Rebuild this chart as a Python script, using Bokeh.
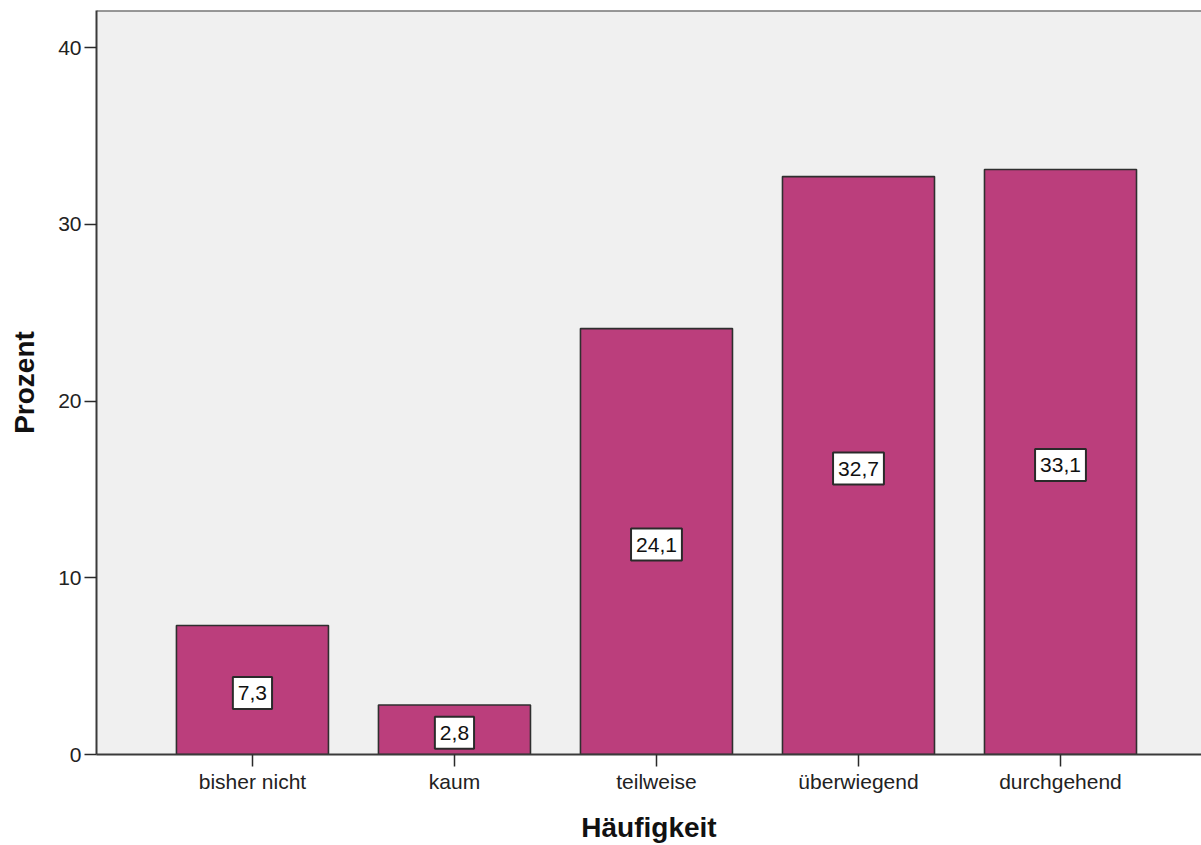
from bokeh.plotting import figure
from bokeh.models import (ColumnDataSource, Range1d, FixedTicker, Label, Span)
from bokeh.embed import file_html
from bokeh.resources import INLINE

# Häufigkeit categories and their share in percent
categories = ["bisher nicht", "kaum", "teilweise", "überwiegend", "durchgehend"]
percent = [7.3, 2.8, 24.1, 32.7, 33.1]
y_ticks = [0, 10, 20, 30, 40]

positions = list(range(len(categories)))

source = ColumnDataSource(dict(x=positions, top=percent))

FONT = "Liberation Sans"
Y_END = 42.1

p = figure(
    width=1201, height=845,
    x_range=Range1d(-0.772, 4.698),
    y_range=Range1d(0, Y_END),
    output_backend="svg",
    toolbar_location=None,
    min_border_left=96, min_border_right=0,
    min_border_top=10, min_border_bottom=91,
)

p.background_fill_color = "#f0f0f0"
p.border_fill_color = "white"
p.outline_line_color = None
p.grid.visible = False

p.vbar(x="x", top="top", bottom=0, width=0.7525, source=source,
       fill_color="#bb3e7c", line_color="#2f2f2f", line_width=1.6)

# boxed value labels, centred halfway up each bar
for xi, v in zip(positions, percent):
    p.add_layout(Label(
        x=xi, y=v / 2, y_offset=-3, text=f"{v:.1f}".replace(".", ","),
        text_align="center", text_baseline="middle",
        text_font=FONT, text_font_size="21px", text_color="#111111",
        background_fill_color="white", border_line_color="#2a2a2a",
        border_line_width=2, padding=(5, 9),
    ))

# top edge of the plot frame
p.add_layout(Span(location=Y_END, dimension="width",
                  line_color="#3a3a3a", line_width=2))

# x axis
p.xaxis.ticker = FixedTicker(ticks=positions)
p.xaxis.major_label_overrides = {i: c for i, c in zip(positions, categories)}
p.xaxis.axis_label = "Häufigkeit"
p.xaxis.minor_tick_line_color = None

# y axis
p.yaxis.ticker = FixedTicker(ticks=y_ticks)
p.yaxis.axis_label = "Prozent"
p.yaxis.minor_tick_line_color = None

for ax in (p.xaxis, p.yaxis):
    ax.axis_line_color = "#3a3a3a"
    ax.axis_line_width = 2
    ax.major_tick_line_color = "#2a2a2a"
    ax.major_tick_line_width = 1.5
    ax.major_tick_in = 0
    ax.major_tick_out = 12
    ax.major_label_text_font = FONT
    ax.major_label_text_font_size = "21px"
    ax.major_label_text_color = "#222222"
    ax.axis_label_text_font = FONT
    ax.axis_label_text_font_size = "28px"
    ax.axis_label_text_font_style = "bold"
    ax.axis_label_text_color = "#111111"

p.xaxis.major_label_standoff = 3
p.xaxis.axis_label_standoff = 16
p.yaxis.major_label_standoff = 3
p.yaxis.axis_label_standoff = 15

open("out.html", "w").write(file_html(p, INLINE))
